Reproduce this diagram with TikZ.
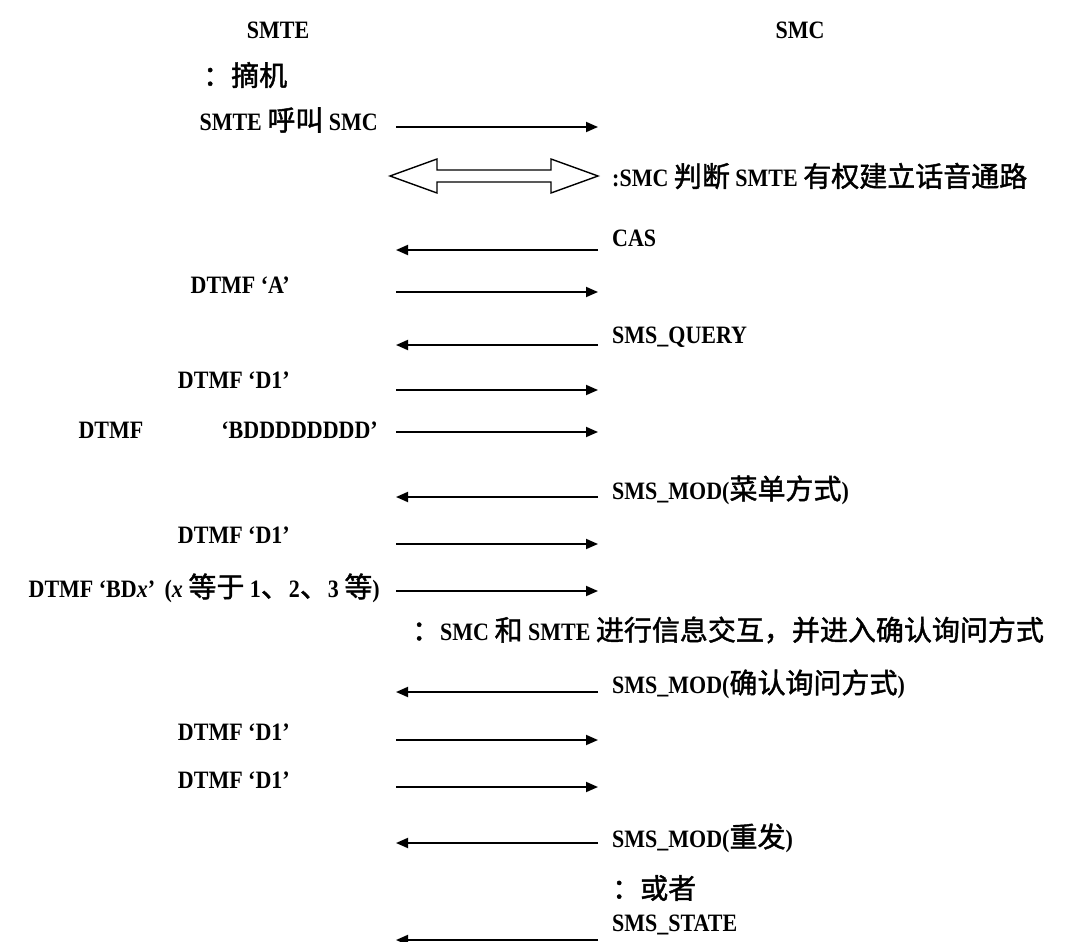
\documentclass[tikz,border=0pt]{standalone}
\usepackage{fontspec}
\setmainfont{Liberation Serif}[FakeStretch=0.88]
\newfontfamily\cjk{Noto Sans CJK SC}[FakeBold=1.5]
\usetikzlibrary{arrows.meta}
\newcommand\zh[1]{{\cjk\mdseries\fontsize{28}{30}\selectfont #1}}
\begin{document}
\begin{tikzpicture}[x=1pt,y=-1pt,
  lbl/.style={inner sep=0pt, font=\bfseries\fontsize{25}{28}\selectfont},
  msg/.style={-{Triangle[length=12pt,width=10pt]}, line width=1.8pt},
  dbl/.style={line width=1.4pt, line join=miter}]
\useasboundingbox (0,0) rectangle (1088,942);
% headers
\node[lbl] (hsmte) at (278,30) {SMTE};
\node[lbl] (hsmc) at (800,30) {SMC};
% texts
\node[lbl, anchor=west] (t0) at (203,75) {\zh{：摘机}};
\node[lbl, anchor=east] (t1) at (378,120) {SMTE \zh{呼叫} SMC};
\node[lbl, anchor=west] (t2) at (612,176) {:SMC \zh{判断} SMTE \zh{有权建立话音通路}};
\node[lbl, anchor=west] (t3) at (612,238) {CAS};
\node[lbl, anchor=east] (t4) at (290,285) {DTMF ‘A’};
\node[lbl, anchor=west] (t5) at (612,337) {SMS\_QUERY};
\node[lbl, anchor=east] (t6) at (290,380) {DTMF ‘D1’};
\node[lbl, anchor=east] (t7) at (378,430) {DTMF\hspace{78pt}‘BDDDDDDDD’};
\node[lbl, anchor=west] (t8) at (612,490) {SMS\_MOD(\zh{菜单方式})};
\node[lbl, anchor=east] (t9) at (290,535) {DTMF ‘D1’};
\node[lbl, anchor=east] (t10) at (380,588) {DTMF ‘BD\textit{x}’\hspace{4pt} (\textit{x} \zh{等于} 1\zh{、}2\zh{、}3 \zh{等})};
\node[lbl, anchor=west] (t11) at (412,630) {\zh{：}SMC \zh{和} SMTE \zh{进行信息交互，并进入确认询问方式}};
\node[lbl, anchor=west] (t12) at (612,684) {SMS\_MOD(\zh{确认询问方式})};
\node[lbl, anchor=east] (t13) at (290,732) {DTMF ‘D1’};
\node[lbl, anchor=east] (t14) at (290,780) {DTMF ‘D1’};
\node[lbl, anchor=west] (t15) at (612,838) {SMS\_MOD(\zh{重发})};
\node[lbl, anchor=west] (t16) at (612,888) {\zh{：或者}};
\node[lbl, anchor=west] (t17) at (612,925) {SMS\_STATE};
% arrow end points
\foreach \n/\y in {a1/127,a3/250,a4/292,a5/345,a6/390,a7/432,a8/497,a9/544,a10/591,a12/692,a13/740,a14/787,a15/843,a17/940}{
  \coordinate (\n l) at (396,\y);
  \coordinate (\n r) at (598,\y);
}
% to SMC
\foreach \n in {a1,a4,a6,a7,a9,a10,a13,a14}{\draw[msg] (\n l) -- (\n r);}
% to SMTE
\foreach \n in {a3,a5,a8,a12,a15,a17}{\draw[msg] (\n r) -- (\n l);}
% double arrow
\coordinate (d0) at (390,176);
\draw[dbl] (d0) -- ++(47,-17) -- ++(0,11) -- ++(114,0) -- ++(0,-11) -- ++(47,17)
  -- ++(-47,17) -- ++(0,-11) -- ++(-114,0) -- ++(0,11) -- cycle;
\end{tikzpicture}
\end{document}
